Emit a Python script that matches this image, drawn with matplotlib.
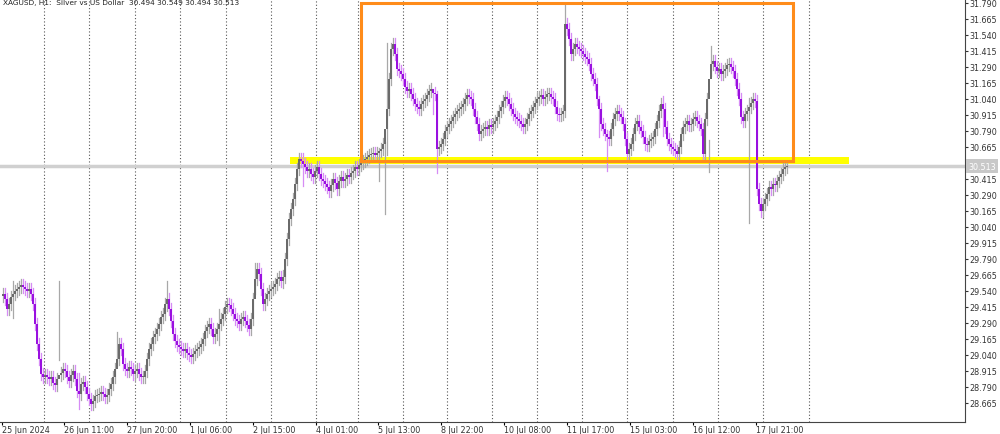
import matplotlib
matplotlib.use("Agg")
import matplotlib.pyplot as plt
from matplotlib.patches import Rectangle

closes = [
29.516,29.477,29.399,29.438,29.493,29.516,29.540,29.555,29.571,29.587,
29.571,29.555,29.540,29.555,29.516,29.438,29.282,29.126,29.008,28.891,
28.868,28.883,28.868,28.852,28.868,28.821,28.805,28.852,28.883,28.899,
28.930,28.915,28.868,28.837,28.883,28.915,28.852,28.758,28.735,28.813,
28.829,28.790,28.735,28.696,28.657,28.680,28.719,28.727,28.735,28.751,
28.735,28.712,28.727,28.774,28.813,28.868,28.930,29.008,29.126,29.087,
28.969,28.930,28.915,28.946,28.930,28.891,28.915,28.930,28.891,28.868,
28.868,28.915,29.008,29.087,29.126,29.180,29.204,29.243,29.282,29.337,
29.360,29.438,29.477,29.399,29.305,29.204,29.149,29.118,29.102,29.087,
29.071,29.087,29.055,29.040,29.024,29.048,29.071,29.087,29.102,29.126,
29.165,29.227,29.258,29.282,29.243,29.180,29.204,29.243,29.282,29.321,
29.360,29.415,29.438,29.430,29.399,29.360,29.321,29.305,29.282,29.321,
29.337,29.305,29.274,29.243,29.321,29.477,29.633,29.712,29.673,29.555,
29.438,29.477,29.516,29.540,29.555,29.571,29.594,29.633,29.649,29.618,
29.649,29.790,29.946,30.102,30.180,30.259,30.376,30.493,30.571,30.555,
30.532,30.508,30.477,30.493,30.454,30.430,30.477,30.508,30.454,30.415,
30.399,30.376,30.352,30.321,30.368,30.415,30.383,30.337,30.399,30.430,
30.399,30.415,30.446,30.430,30.462,30.477,30.508,30.493,30.524,30.540,
30.555,30.571,30.587,30.602,30.610,30.618,30.602,30.618,30.633,30.649,
30.688,30.805,30.962,31.196,31.430,31.469,31.391,31.274,31.258,31.235,
31.196,31.134,31.102,31.118,31.079,31.040,31.001,30.977,30.962,31.001,
31.024,31.040,31.071,31.102,31.118,31.087,31.079,30.649,30.665,30.688,
30.727,30.790,30.821,30.844,30.868,30.899,30.923,30.946,30.962,30.977,
31.001,31.040,31.071,31.055,31.040,30.962,30.899,30.844,30.766,30.790,
30.805,30.821,30.805,30.836,30.821,30.844,30.868,30.899,30.946,30.977,
31.024,31.055,31.040,31.001,30.962,30.923,30.899,30.883,30.868,30.844,
30.821,30.844,30.883,30.923,30.946,30.977,31.008,31.040,31.055,31.071,
31.040,31.055,31.079,31.079,31.055,31.040,30.977,30.923,30.915,30.923,
30.946,31.626,31.587,31.509,31.391,31.430,31.469,31.446,31.430,31.415,
31.391,31.368,31.352,31.313,31.235,31.196,31.157,31.040,30.962,30.844,
30.805,30.766,30.743,30.727,30.805,30.883,30.923,30.946,30.923,30.899,
30.844,30.727,30.610,30.649,30.688,30.766,30.844,30.868,30.821,30.790,
30.743,30.688,30.680,30.712,30.727,30.743,30.805,30.868,30.946,31.001,
30.962,30.821,30.727,30.688,30.665,30.649,30.633,30.610,30.665,30.766,
30.821,30.844,30.868,30.836,30.844,30.883,30.899,30.868,30.844,30.805,
30.610,30.883,31.040,31.196,31.313,31.337,31.290,31.258,31.274,31.235,
31.258,31.274,31.305,31.313,31.290,31.258,31.196,31.118,31.040,30.899,
30.868,30.923,30.946,30.977,31.008,31.040,31.024,30.337,30.220,30.165,
30.220,30.259,30.298,30.352,30.337,30.376,30.368,30.399,30.430,30.454,
30.493,30.508,30.513,
]
first_open = 29.50
# notable wick extremes: bar index -> (high, low)
spikes = {5: (29.62, 29.33), 38: (28.90, 28.62), 57: (29.22, 28.95),
          82: (29.62, 29.38), 126: (29.76, 29.52), 191: (30.70, 30.14),
          192: (31.48, 30.60), 217: (31.10, 30.46), 281: (31.78, 30.90),
          302: (30.80, 30.48), 353: (30.72, 30.47), 373: (31.05, 30.07),
          188: (30.66, 30.40), 150: (30.62, 30.36), 28: (29.62, 29.00),
          108: (29.40, 29.12), 140: (29.70, 29.56), 215: (31.12, 30.92),
          298: (31.06, 30.74), 330: (31.06, 30.75), 354: (31.45, 31.22)}
wick = 0.045

ytick_vals = [31.790, 31.665, 31.540, 31.415, 31.290, 31.165, 31.040, 30.915,
              30.790, 30.665, 30.540, 30.415, 30.290, 30.165, 30.040, 29.915,
              29.790, 29.665, 29.540, 29.415, 29.290, 29.165, 29.040, 28.915,
              28.790, 28.665]
xlabels = ["25 Jun 2024", "26 Jun 11:00", "27 Jun 20:00", "1 Jul 06:00",
           "2 Jul 15:00", "4 Jul 01:00", "5 Jul 13:00", "8 Jul 22:00",
           "10 Jul 08:00", "11 Jul 17:00", "15 Jul 03:00", "16 Jul 12:00",
           "17 Jul 21:00"]
label_px = [2, 64, 127, 190, 253, 316, 378, 441, 504, 567, 630, 693, 756]
grid_px = [44, 89, 135, 180, 226, 271, 316, 358, 403, 447, 492, 537, 582,
           627, 673, 718, 763, 809]

def px2i(p):
    return (p - 3) / 2.0

fig = plt.figure(figsize=(10, 4.35), dpi=100)
ax = fig.add_axes([0, 12/435, 0.965, 423/435])
ax.set_xlim(px2i(0), px2i(965))
ax.set_ylim(28.516, 31.821)

for g in grid_px:
    ax.axvline(px2i(g), color="#555555", lw=0.8, ls=(0, (1, 2)), zorder=1)

ax.axhline(30.513, color="#d0d0d0", lw=2.5, zorder=1)

ax.add_patch(Rectangle((px2i(290), 30.532), px2i(849) - px2i(290), 0.055,
                       color="#ffff00", zorder=2, lw=0))
ax.add_patch(Rectangle((px2i(361), 30.555), px2i(793) - px2i(361), 31.79 - 30.555,
                       fill=False, ec="#ff8c1a", lw=2.2, zorder=5))
ax.plot([px2i(361), px2i(793)], [30.548, 30.548], color="#ff80ff", lw=1.5, zorder=4)

prev = first_open
for i, c in enumerate(closes):
    o = prev
    up = c >= o
    hi = max(o, c) + wick
    lo = min(o, c) - wick
    if i in spikes:
        hi, lo = spikes[i]
    wc = "#a8a8a8" if up else "#d68cf5"
    bc = "#6a6a6a" if up else "#9a10e0"
    ax.plot([i, i], [lo, hi], color=wc, lw=0.9, zorder=3)
    h = abs(c - o)
    ax.add_patch(Rectangle((i - 0.5, min(o, c)), 1.0, max(h, 0.006),
                           color=bc, lw=0, zorder=3))
    prev = c

ax.yaxis.tick_right()
ax.set_yticks(ytick_vals)
ax.set_yticklabels([f"{v:.3f}" for v in ytick_vals], fontsize=5.8, color="#333333")
ax.tick_params(axis="y", direction="out", length=2.5, pad=1, colors="#333333")
ax.set_xticks([px2i(p) for p in label_px])
ax.set_xticklabels(xlabels, fontsize=5.8, ha="left", color="#333333")
ax.tick_params(axis="x", direction="out", length=2, pad=0.5)
for s in ["top", "left"]:
    ax.spines[s].set_visible(False)
ax.spines["right"].set_color("#444444")
ax.spines["bottom"].set_color("#444444")

ax.text(px2i(968), 30.513, "30.513", fontsize=5.8, color="white", va="center",
        ha="left", bbox=dict(boxstyle="square,pad=0.3", fc="#c8c8c8", ec="none"),
        clip_on=False, zorder=10)
ax.text(px2i(3), 31.80, "XAGUSD, H1:  Silver vs US Dollar  30.494 30.549 30.494 30.513",
        fontsize=5.3, color="#222222", va="center", ha="left")

fig.savefig("out.png", dpi=100)
